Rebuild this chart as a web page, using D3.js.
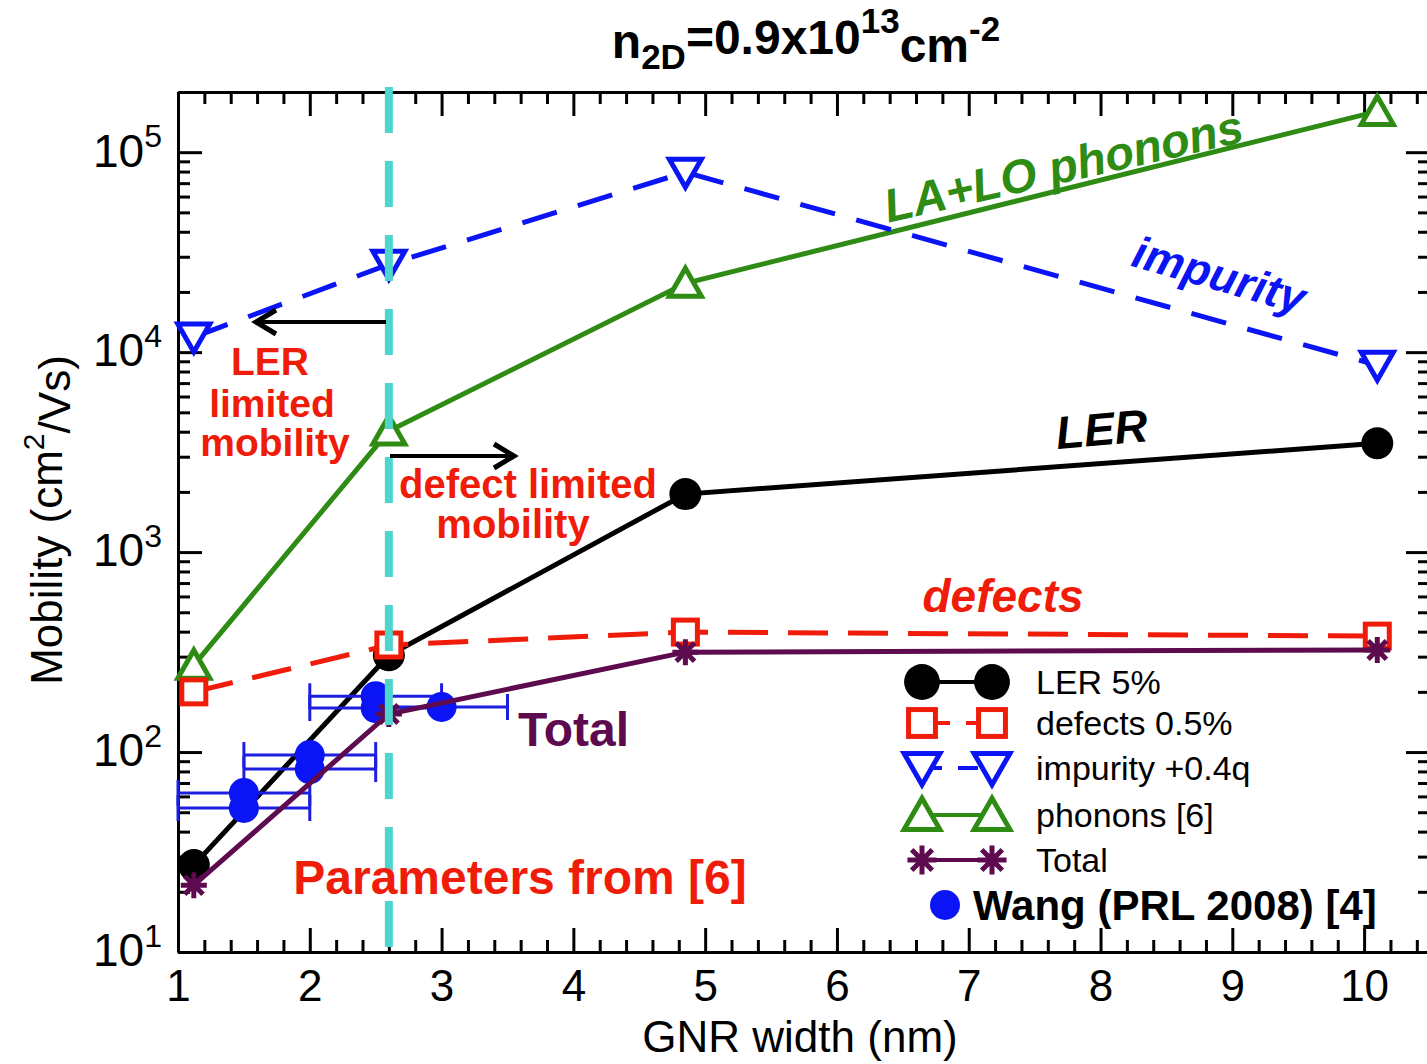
<!DOCTYPE html>
<html>
<head>
<meta charset="utf-8">
<script src="https://cdn.jsdelivr.net/npm/d3@7"></script>
<style>
  html, body { margin: 0; padding: 0; background: #fff; }
  svg { display: block; font-family: "Liberation Sans", Arial, Helvetica, sans-serif; }
</style>
</head>
<body>
<svg id="chart" width="1427" height="1064"></svg>
<script>
// GNR width (nm) where the simulations were run
const widths = [1.12, 2.6, 4.85, 10.1];
const lerVals = [27.2, 305, 1950, 3500];
const defectVals = [200, 343, 398, 380];
const impurityVals = [11900, 27500, 79400, 8600];
const phononVals = [272, 4030, 22100, 160000];
const totalVals = [21.6, 155, 316, 324];

// Wang (PRL 2008) measured points with x error bars
const wangX = [1.5, 1.5, 2.0, 2.0, 2.5, 2.5, 3.0];
const wangY = [62.4, 52.5, 96.6, 82.2, 190, 166, 168];
const wangLo = [1.0, 1.0, 1.5, 1.5, 2.0, 2.0, 2.5];
const wangHi = [2.0, 2.0, 2.5, 2.5, 3.0, 3.0, 3.5];

const xTicks = [1, 2, 3, 4, 5, 6, 7, 8, 9, 10];
const yTicks = [10, 100, 1000, 10000, 100000];
const paramWidth = 2.6;

const legendItems = [
  {label: "LER 5%", marker: "circle", color: "#000", dash: null},
  {label: "defects 0.5%", marker: "square", color: "#f01c0a", dash: "28,16"},
  {label: "impurity +0.4q", marker: "tri-down", color: "#0a14f5", dash: "20,16"},
  {label: "phonons [6]", marker: "tri-up", color: "#2e8b14", dash: null},
  {label: "Total", marker: "star", color: "#5e0a4e", dash: null}
];

const svg = d3.select("#chart");
const margin = {left: 178, top: 92, bottom: 952, right: 1430};

const x = d3.scaleLinear().domain([1, 10.5]).range([margin.left, margin.right]);
const y = d3.scaleLog().domain([10, 2e5]).range([margin.bottom, margin.top]);

const xMinor = d3.range(1, 10.5, 0.2).map(v => +v.toFixed(1)).filter(v => Math.abs(v - Math.round(v)) > 1e-6);
const yMinor = [];
[10, 100, 1000, 10000, 100000].forEach(d => {
  for (let k = 2; k <= 9; k++) if (d * k < 2e5) yMinor.push(d * k);
});

// ---- axes ----
const axisStyle = g => {
  g.selectAll("path.domain").attr("stroke", "#000").attr("stroke-width", 3);
  g.selectAll(".tick line").attr("stroke", "#000").attr("stroke-width", 3);
};

svg.append("g").attr("transform", `translate(0,${margin.bottom})`)
  .call(d3.axisBottom(x).tickValues(xMinor).tickSize(-12).tickSizeOuter(0).tickFormat(""))
  .call(axisStyle);
const gx = svg.append("g").attr("transform", `translate(0,${margin.bottom})`)
  .call(d3.axisBottom(x).tickValues(xTicks).tickSize(-24).tickSizeOuter(0).tickPadding(18).tickFormat(d3.format("d")))
  .call(axisStyle);
gx.selectAll(".tick text").attr("font-size", 44).attr("fill", "#000");

svg.append("g").attr("transform", `translate(0,${margin.top})`)
  .call(d3.axisTop(x).tickValues(xMinor).tickSize(-12).tickSizeOuter(0).tickFormat(""))
  .call(axisStyle);
svg.append("g").attr("transform", `translate(0,${margin.top})`)
  .call(d3.axisTop(x).tickValues(xTicks).tickSize(-24).tickSizeOuter(0).tickFormat(""))
  .call(axisStyle);

svg.append("g").attr("transform", `translate(${margin.left},0)`)
  .call(d3.axisLeft(y).tickValues(yMinor).tickSize(-12).tickSizeOuter(0).tickFormat(""))
  .call(axisStyle);
const gy = svg.append("g").attr("transform", `translate(${margin.left},0)`)
  .call(d3.axisLeft(y).tickValues(yTicks).tickSize(-24).tickSizeOuter(0).tickPadding(16).tickFormat(""))
  .call(axisStyle);
gy.selectAll(".tick text").each(function(d) {
  const t = d3.select(this).attr("font-size", 46).attr("fill", "#000").attr("dy", "0.3em");
  t.append("tspan").text("10");
  t.append("tspan").attr("dy", "-0.6em").attr("font-size", 32).text(Math.round(Math.log10(d)));
});

svg.append("g").attr("transform", `translate(${margin.right},0)`)
  .call(d3.axisRight(y).tickValues(yMinor).tickSize(-12).tickSizeOuter(0).tickFormat(""))
  .call(axisStyle);
svg.append("g").attr("transform", `translate(${margin.right},0)`)
  .call(d3.axisRight(y).tickValues(yTicks).tickSize(-24).tickSizeOuter(0).tickFormat(""))
  .call(axisStyle);

// ---- axis titles ----
svg.append("text").attr("x", 800).attr("y", 1052).attr("text-anchor", "middle")
  .attr("font-size", 44).text("GNR width (nm)");

const yl = svg.append("text").attr("transform", "translate(62,520) rotate(-90)")
  .attr("text-anchor", "middle").attr("font-size", 44);
yl.append("tspan").text("Mobility (cm");
yl.append("tspan").attr("dy", "-0.6em").attr("font-size", 30).text("2");
yl.append("tspan").attr("dy", "0.6em").text("/Vs)");

const title = svg.append("text").attr("x", 806).attr("y", 58).attr("text-anchor", "middle")
  .attr("font-size", 48).attr("font-weight", "bold");
title.append("tspan").text("n");
title.append("tspan").attr("dy", "0.3em").attr("font-size", 35).text("2D");
title.append("tspan").attr("dy", "-0.3em").text("=0.9x10");
title.append("tspan").attr("dy", "-0.6em").attr("font-size", 35).text("13");
title.append("tspan").attr("dy", "0.6em").text("cm");
title.append("tspan").attr("dy", "-0.6em").attr("font-size", 35).text("-2");

// ---- markers ----
function starPath(r) {
  let p = "";
  for (let a = 0; a < 180; a += 45) {
    const rad = a * Math.PI / 180;
    const dx = r * Math.cos(rad), dy = r * Math.sin(rad);
    p += `M${-dx},${-dy}L${dx},${dy}`;
  }
  return p;
}
function drawMarker(g, type, cx, cy, color, s = 1) {
  if (type === "circle") {
    g.append("circle").attr("cx", cx).attr("cy", cy).attr("r", 16 * s).attr("fill", color);
  } else if (type === "square") {
    g.append("rect").attr("x", cx - 12 * s).attr("y", cy - 12 * s).attr("width", 24 * s).attr("height", 24 * s)
      .attr("fill", "#fff").attr("stroke", color).attr("stroke-width", 5);
  } else if (type === "tri-down") {
    g.append("path").attr("d", `M${cx - 16 * s},${cy - 13 * s}L${cx + 16 * s},${cy - 13 * s}L${cx},${cy + 15 * s}Z`)
      .attr("fill", "#fff").attr("stroke", color).attr("stroke-width", 5).attr("stroke-linejoin", "miter");
  } else if (type === "tri-up") {
    g.append("path").attr("d", `M${cx - 16 * s},${cy + 13 * s}L${cx + 16 * s},${cy + 13 * s}L${cx},${cy - 15 * s}Z`)
      .attr("fill", "#fff").attr("stroke", color).attr("stroke-width", 5).attr("stroke-linejoin", "miter");
  } else if (type === "star") {
    g.append("path").attr("transform", `translate(${cx},${cy})`).attr("d", starPath(13 * s))
      .attr("stroke", color).attr("stroke-width", 5);
  } else if (type === "dot") {
    g.append("circle").attr("cx", cx).attr("cy", cy).attr("r", 15 * s).attr("fill", color);
  }
}

const line = d3.line().x(d => x(d[0])).y(d => y(d[1]));
function drawSeries(vals, item) {
  const g = svg.append("g");
  const pts = widths.map((w, i) => [w, vals[i]]);
  g.append("path").attr("d", line(pts)).attr("fill", "none")
    .attr("stroke", item.color).attr("stroke-width", 5)
    .attr("stroke-dasharray", item.dash ? (item.marker === "square" ? "40,20" : "36,22") : null);
  pts.forEach(p => drawMarker(g, item.marker, x(p[0]), y(p[1]), item.color));
}

drawSeries(phononVals, legendItems[3]);
drawSeries(impurityVals, legendItems[2]);
drawSeries(lerVals, legendItems[0]);
drawSeries(defectVals, legendItems[1]);

// Wang error bars
const wangColor = "#0a14f5";
const gw = svg.append("g");
wangX.forEach((wx, i) => {
  const yy = y(wangY[i]);
  gw.append("line").attr("x1", x(wangLo[i])).attr("x2", x(wangHi[i])).attr("y1", yy).attr("y2", yy)
    .attr("stroke", "#1e1ee0").attr("stroke-width", 3);
  [wangLo[i], wangHi[i]].forEach(v => gw.append("line").attr("x1", x(v)).attr("x2", x(v))
    .attr("y1", yy - 13).attr("y2", yy + 13).attr("stroke", "#1e1ee0").attr("stroke-width", 3));
});

drawSeries(totalVals, legendItems[4]);
wangX.forEach((wx, i) => drawMarker(gw, "dot", x(wx), y(wangY[i]), wangColor));

// cyan reference line
svg.append("line").attr("x1", x(paramWidth)).attr("x2", x(paramWidth))
  .attr("y1", 87).attr("y2", margin.bottom)
  .attr("stroke", "#4fd6cc").attr("stroke-width", 8).attr("stroke-dasharray", "46,28");

// ---- annotations ----
function note(txt, cx, cy, size, color, opts = {}) {
  svg.append("text").attr("transform", `translate(${cx},${cy}) rotate(${opts.rot || 0})`)
    .attr("text-anchor", opts.anchor || "middle").attr("font-size", size).attr("font-weight", "bold")
    .attr("font-style", opts.italic ? "italic" : "normal").attr("fill", color).text(txt);
}
note("LA+LO phonons", 1067, 182, 47, "#2e8b14", {rot: -12.8, italic: true});
note("impurity", 1215, 290, 45, "#0a14f5", {rot: 16, italic: true});
note("LER", 1103, 445, 46, "#000", {rot: -5, italic: true});
note("defects", 1003, 612, 46, "#f01c0a", {italic: true});
note("Total", 518, 746, 48, "#5e0a4e", {anchor: "start"});
note("LER", 270, 375, 39, "#f01c0a");
note("limited", 272, 417, 39, "#f01c0a");
note("mobility", 275, 456, 39, "#f01c0a");
note("defect limited", 528, 498, 40, "#f01c0a");
note("mobility", 513, 538, 40, "#f01c0a");
note("Parameters from [6]", 520, 894, 48, "#f01c0a");

// arrows
function arrow(x1, x2, yy) {
  const dir = Math.sign(x2 - x1);
  svg.append("line").attr("x1", x1).attr("x2", x2).attr("y1", yy).attr("y2", yy)
    .attr("stroke", "#000").attr("stroke-width", 4);
  svg.append("path").attr("d", `M${x2 - dir * 20},${yy - 12}L${x2},${yy}L${x2 - dir * 20},${yy + 12}`)
    .attr("fill", "none").attr("stroke", "#000").attr("stroke-width", 5);
}
arrow(386, 256, 322);
arrow(390, 514, 456);

// ---- legend ----
const lg = svg.append("g");
const rowY = [682, 723, 768, 815, 860];
legendItems.forEach((it, i) => {
  const yy = rowY[i];
  lg.append("line").attr("x1", 922).attr("x2", 992).attr("y1", yy).attr("y2", yy)
    .attr("stroke", it.color).attr("stroke-width", 4).attr("stroke-dasharray", it.dash);
  drawMarker(lg, it.marker, 922, yy, it.color, 1.12);
  drawMarker(lg, it.marker, 992, yy, it.color, 1.12);
  lg.append("text").attr("x", 1036).attr("y", yy + 12).attr("font-size", 34).attr("fill", "#000").text(it.label);
});
drawMarker(lg, "dot", 945, 905, wangColor);
lg.append("text").attr("x", 973).attr("y", 920).attr("font-size", 42).attr("font-weight", "bold")
  .attr("fill", "#000").text("Wang (PRL 2008) [4]");
</script>
</body>
</html>
